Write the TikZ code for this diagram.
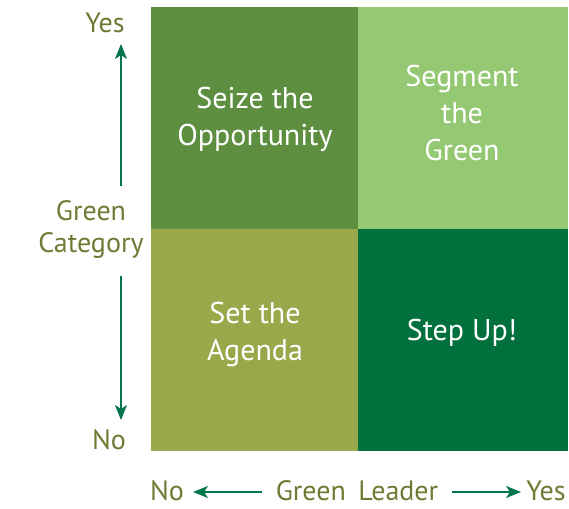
\documentclass[tikz,border=0pt]{standalone}
\usepackage{fontspec}
\setmainfont{PT Sans}
\usetikzlibrary{arrows.meta}
\definecolor{qseize}{HTML}{5E8F40}
\definecolor{qsegment}{HTML}{94C872}
\definecolor{qagenda}{HTML}{9AA84B}
\definecolor{qstep}{HTML}{00703C}
\definecolor{axistext}{HTML}{6E7B34}
\definecolor{axisline}{HTML}{00774A}
\begin{document}
\begin{tikzpicture}[x=1pt,y=-1pt,
  quad/.style={text=white,font=\fontsize{30}{37}\selectfont,align=center},
  axis/.style={text=axistext,font=\fontsize{28}{32}\selectfont,align=center},
  arr/.style={draw=axisline,line width=1.2pt,-{Stealth[length=15pt,width=12pt,inset=4pt]}}]
\useasboundingbox (0,0) rectangle (569,508);
% quadrants
\fill[qseize](151,7) rectangle (358,229);
\fill[qsegment](358,7) rectangle (568,229);
\fill[qagenda](151,229) rectangle (358,451);
\fill[qstep](358,229) rectangle (568,451);
\node[quad](seize) at (255,119) {Seize the\\Opportunity};
\node[quad](segment) at (462,113) {Segment\\the\\Green};
\node[quad](agenda) at (255,334) {Set the\\Agenda};
\node[quad](stepup) at (462,333) {Step Up!};
% vertical axis
\node[axis](yyes) at (105,23) {Yes};
\node[axis](category) at (91,229) {Green\\Category};
\node[axis](yno) at (109,440) {No};
\coordinate(vtop) at (121,44);
\coordinate(vmidA) at (121,186);
\coordinate(vmidB) at (121,276);
\coordinate(vbot) at (121,420);
\draw[arr](vmidA)--(vtop);
\draw[arr](vmidB)--(vbot);
% horizontal axis
\node[axis](xno) at (167,491) {No};
\node[axis](leader) at (357,491) {Green\hspace{0.45em}Leader};
\node[axis](xyes) at (546,491) {Yes};
\coordinate(hleftA) at (262,492);
\coordinate(hleft) at (193,492);
\coordinate(hrightA) at (452,492);
\coordinate(hright) at (521,492);
\draw[arr](hleftA)--(hleft);
\draw[arr](hrightA)--(hright);
\end{tikzpicture}
\end{document}
